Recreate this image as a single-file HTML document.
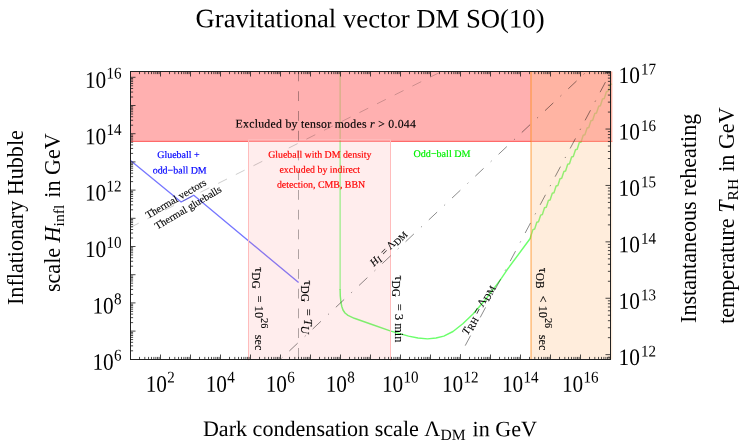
<!DOCTYPE html>
<html><head><meta charset="utf-8"><title>Gravitational vector DM SO(10)</title>
<style>html,body{margin:0;padding:0;background:#fff;}body{width:741px;height:442px;overflow:hidden;}svg{display:block;will-change:transform;} text{font-family:"Liberation Serif",serif;} .i{font-style:italic;}</style></head><body>
<svg width="741" height="442" viewBox="0 0 741 442">
<rect x="0" y="0" width="741" height="442" fill="#ffffff"/>
<polyline points="130.5,160.5 181.1,202 193.8,195.2 298.6,282.6" fill="none" stroke="rgb(118,118,255)" stroke-width="1.35" stroke-linejoin="miter"/>
<line x1="340.1" y1="71.5" x2="340.1" y2="290" stroke="rgb(108,255,108)" stroke-width="1.0"/>
<polyline points="340.1,289 340.3,296 340.9,302 341.8,306.5 343,310 345,313 348,315.3 354.3,318.3 372,324.5 390.9,331.1 408.5,336.1 418,338.0 427.5,338.85 436,338.0 443.8,336.1 453,331.5 462.8,323.8 473,314 484.5,300.7 500,280.4 507.1,269.8 530.2,238.5 530.8,236.3 532.9,229.6 534.7,229.0 536.8,222.3 538.5,221.8 540.7,215.1 542.4,214.5 544.5,207.8 546.3,207.3 548.4,200.5 550.1,200.0 552.3,193.3 554.0,192.8 556.1,186.0 557.9,185.5 560.0,178.8 561.7,178.3 563.9,171.5 565.6,171.0 567.7,164.3 569.5,163.8 571.6,157.0 573.3,156.5 575.5,149.8 577.2,149.3 579.3,142.5 581.1,142.0 583.2,135.3 584.9,134.8 587.1,128.0 588.8,127.5 590.9,120.8 592.7,120.3 594.8,113.5 596.5,113.0 598.7,106.3 600.4,105.8 602.5,99.0 604.3,98.5 606.4,91.8 608.1,91.3 610.3,84.5 612.0,84.0" fill="none" stroke="rgb(108,255,108)" stroke-width="1.45" stroke-linejoin="round"/>
<line x1="130.5" y1="141.3" x2="248.5" y2="141.3" stroke="rgb(255,0,0)" stroke-opacity="0.6" stroke-width="1.3"/>
<line x1="248.5" y1="141.3" x2="390.5" y2="141.3" stroke="rgb(255,0,0)" stroke-opacity="0.46" stroke-width="1.3"/>
<line x1="390.5" y1="141.3" x2="612.3" y2="141.3" stroke="rgb(255,0,0)" stroke-opacity="0.6" stroke-width="1.3"/>
<rect x="248.5" y="141.3" width="142.0" height="218.2" fill="rgb(255,128,128)" fill-opacity="0.14"/>
<rect x="130.5" y="71.5" width="481.79999999999995" height="69.80000000000001" fill="rgb(255,128,128)" fill-opacity="0.62"/>
<path d="M248.5,360.2V139.6H390.5V360.2" fill="none" stroke="rgb(255,188,188)" stroke-width="1"/>
<line x1="531.09" y1="71.5" x2="531.09" y2="359.5" stroke="rgb(255,128,0)" stroke-opacity="0.6" stroke-width="1.32"/>
<rect x="531" y="71.5" width="81.29999999999995" height="288.0" fill="rgb(255,191,128)" fill-opacity="0.28"/>
<line x1="131" y1="227.05" x2="270.5" y2="157.2" stroke="#000" stroke-width="0.2" fill="none" stroke-dasharray="9.9 9.85" stroke-dashoffset="1.3"/>
<line x1="280.3" y1="152.25" x2="441.5" y2="71.5" stroke="#000" stroke-width="0.2" fill="none" stroke-dasharray="9.9 9.85" stroke-dashoffset="10.3"/>
<line x1="298.5" y1="71.5" x2="298.5" y2="359.5" stroke="#000" stroke-width="0.32" fill="none" stroke-dasharray="9.8 9.95"/>
<line x1="280.5" y1="359.3" x2="586.6702127659576" y2="71.5" stroke="#000" stroke-width="0.46" fill="none" stroke-dasharray="11.4 9.75 1.2 9.55" stroke-dashoffset="19.75"/>
<line x1="457.84" y1="359.5" x2="610.5" y2="72.64999999999998" stroke="#000" stroke-width="0.46" fill="none" stroke-dasharray="11.4 9.75 1.2 9.55" stroke-dashoffset="16.2"/>
<rect x="130.5" y="71.5" width="480.0" height="288.0" fill="none" stroke="#222" stroke-width="1"/>
<path d="M160.5,359.5v-5.0M160.5,71.5v5.0M190.5,359.5v-5.0M190.5,71.5v5.0M220.5,359.5v-5.0M220.5,71.5v5.0M250.5,359.5v-5.0M250.5,71.5v5.0M280.5,359.5v-5.0M280.5,71.5v5.0M310.5,359.5v-5.0M310.5,71.5v5.0M340.5,359.5v-5.0M340.5,71.5v5.0M370.5,359.5v-5.0M370.5,71.5v5.0M400.5,359.5v-5.0M400.5,71.5v5.0M430.5,359.5v-5.0M430.5,71.5v5.0M460.5,359.5v-5.0M460.5,71.5v5.0M490.5,359.5v-5.0M490.5,71.5v5.0M520.5,359.5v-5.0M520.5,71.5v5.0M550.5,359.5v-5.0M550.5,71.5v5.0M580.5,359.5v-5.0M580.5,71.5v5.0M139.53,359.5v-2.6M139.53,71.5v2.6M144.81,359.5v-2.6M144.81,71.5v2.6M148.56,359.5v-2.6M148.56,71.5v2.6M151.47,359.5v-2.6M151.47,71.5v2.6M153.84,359.5v-2.6M153.84,71.5v2.6M155.85,359.5v-2.6M155.85,71.5v2.6M157.59,359.5v-2.6M157.59,71.5v2.6M159.13,359.5v-2.6M159.13,71.5v2.6M169.53,359.5v-2.6M169.53,71.5v2.6M174.81,359.5v-2.6M174.81,71.5v2.6M178.56,359.5v-2.6M178.56,71.5v2.6M181.47,359.5v-2.6M181.47,71.5v2.6M183.84,359.5v-2.6M183.84,71.5v2.6M185.85,359.5v-2.6M185.85,71.5v2.6M187.59,359.5v-2.6M187.59,71.5v2.6M189.13,359.5v-2.6M189.13,71.5v2.6M199.53,359.5v-2.6M199.53,71.5v2.6M204.81,359.5v-2.6M204.81,71.5v2.6M208.56,359.5v-2.6M208.56,71.5v2.6M211.47,359.5v-2.6M211.47,71.5v2.6M213.84,359.5v-2.6M213.84,71.5v2.6M215.85,359.5v-2.6M215.85,71.5v2.6M217.59,359.5v-2.6M217.59,71.5v2.6M219.13,359.5v-2.6M219.13,71.5v2.6M229.53,359.5v-2.6M229.53,71.5v2.6M234.81,359.5v-2.6M234.81,71.5v2.6M238.56,359.5v-2.6M238.56,71.5v2.6M241.47,359.5v-2.6M241.47,71.5v2.6M243.84,359.5v-2.6M243.84,71.5v2.6M245.85,359.5v-2.6M245.85,71.5v2.6M247.59,359.5v-2.6M247.59,71.5v2.6M249.13,359.5v-2.6M249.13,71.5v2.6M259.53,359.5v-2.6M259.53,71.5v2.6M264.81,359.5v-2.6M264.81,71.5v2.6M268.56,359.5v-2.6M268.56,71.5v2.6M271.47,359.5v-2.6M271.47,71.5v2.6M273.84,359.5v-2.6M273.84,71.5v2.6M275.85,359.5v-2.6M275.85,71.5v2.6M277.59,359.5v-2.6M277.59,71.5v2.6M279.13,359.5v-2.6M279.13,71.5v2.6M289.53,359.5v-2.6M289.53,71.5v2.6M294.81,359.5v-2.6M294.81,71.5v2.6M298.56,359.5v-2.6M298.56,71.5v2.6M301.47,359.5v-2.6M301.47,71.5v2.6M303.84,359.5v-2.6M303.84,71.5v2.6M305.85,359.5v-2.6M305.85,71.5v2.6M307.59,359.5v-2.6M307.59,71.5v2.6M309.13,359.5v-2.6M309.13,71.5v2.6M319.53,359.5v-2.6M319.53,71.5v2.6M324.81,359.5v-2.6M324.81,71.5v2.6M328.56,359.5v-2.6M328.56,71.5v2.6M331.47,359.5v-2.6M331.47,71.5v2.6M333.84,359.5v-2.6M333.84,71.5v2.6M335.85,359.5v-2.6M335.85,71.5v2.6M337.59,359.5v-2.6M337.59,71.5v2.6M339.13,359.5v-2.6M339.13,71.5v2.6M349.53,359.5v-2.6M349.53,71.5v2.6M354.81,359.5v-2.6M354.81,71.5v2.6M358.56,359.5v-2.6M358.56,71.5v2.6M361.47,359.5v-2.6M361.47,71.5v2.6M363.84,359.5v-2.6M363.84,71.5v2.6M365.85,359.5v-2.6M365.85,71.5v2.6M367.59,359.5v-2.6M367.59,71.5v2.6M369.13,359.5v-2.6M369.13,71.5v2.6M379.53,359.5v-2.6M379.53,71.5v2.6M384.81,359.5v-2.6M384.81,71.5v2.6M388.56,359.5v-2.6M388.56,71.5v2.6M391.47,359.5v-2.6M391.47,71.5v2.6M393.84,359.5v-2.6M393.84,71.5v2.6M395.85,359.5v-2.6M395.85,71.5v2.6M397.59,359.5v-2.6M397.59,71.5v2.6M399.13,359.5v-2.6M399.13,71.5v2.6M409.53,359.5v-2.6M409.53,71.5v2.6M414.81,359.5v-2.6M414.81,71.5v2.6M418.56,359.5v-2.6M418.56,71.5v2.6M421.47,359.5v-2.6M421.47,71.5v2.6M423.84,359.5v-2.6M423.84,71.5v2.6M425.85,359.5v-2.6M425.85,71.5v2.6M427.59,359.5v-2.6M427.59,71.5v2.6M429.13,359.5v-2.6M429.13,71.5v2.6M439.53,359.5v-2.6M439.53,71.5v2.6M444.81,359.5v-2.6M444.81,71.5v2.6M448.56,359.5v-2.6M448.56,71.5v2.6M451.47,359.5v-2.6M451.47,71.5v2.6M453.84,359.5v-2.6M453.84,71.5v2.6M455.85,359.5v-2.6M455.85,71.5v2.6M457.59,359.5v-2.6M457.59,71.5v2.6M459.13,359.5v-2.6M459.13,71.5v2.6M469.53,359.5v-2.6M469.53,71.5v2.6M474.81,359.5v-2.6M474.81,71.5v2.6M478.56,359.5v-2.6M478.56,71.5v2.6M481.47,359.5v-2.6M481.47,71.5v2.6M483.84,359.5v-2.6M483.84,71.5v2.6M485.85,359.5v-2.6M485.85,71.5v2.6M487.59,359.5v-2.6M487.59,71.5v2.6M489.13,359.5v-2.6M489.13,71.5v2.6M499.53,359.5v-2.6M499.53,71.5v2.6M504.81,359.5v-2.6M504.81,71.5v2.6M508.56,359.5v-2.6M508.56,71.5v2.6M511.47,359.5v-2.6M511.47,71.5v2.6M513.84,359.5v-2.6M513.84,71.5v2.6M515.85,359.5v-2.6M515.85,71.5v2.6M517.59,359.5v-2.6M517.59,71.5v2.6M519.13,359.5v-2.6M519.13,71.5v2.6M529.53,359.5v-2.6M529.53,71.5v2.6M534.81,359.5v-2.6M534.81,71.5v2.6M538.56,359.5v-2.6M538.56,71.5v2.6M541.47,359.5v-2.6M541.47,71.5v2.6M543.84,359.5v-2.6M543.84,71.5v2.6M545.85,359.5v-2.6M545.85,71.5v2.6M547.59,359.5v-2.6M547.59,71.5v2.6M549.13,359.5v-2.6M549.13,71.5v2.6M559.53,359.5v-2.6M559.53,71.5v2.6M564.81,359.5v-2.6M564.81,71.5v2.6M568.56,359.5v-2.6M568.56,71.5v2.6M571.47,359.5v-2.6M571.47,71.5v2.6M573.84,359.5v-2.6M573.84,71.5v2.6M575.85,359.5v-2.6M575.85,71.5v2.6M577.59,359.5v-2.6M577.59,71.5v2.6M579.13,359.5v-2.6M579.13,71.5v2.6M589.53,359.5v-2.6M589.53,71.5v2.6M594.81,359.5v-2.6M594.81,71.5v2.6M598.56,359.5v-2.6M598.56,71.5v2.6M601.47,359.5v-2.6M601.47,71.5v2.6M603.84,359.5v-2.6M603.84,71.5v2.6M605.85,359.5v-2.6M605.85,71.5v2.6M607.59,359.5v-2.6M607.59,71.5v2.6M609.13,359.5v-2.6M609.13,71.5v2.6M130.5,331.1h5.0M130.5,302.9h5.0M130.5,274.7h5.0M130.5,246.5h5.0M130.5,218.3h5.0M130.5,190.1h5.0M130.5,161.9h5.0M130.5,133.7h5.0M130.5,105.5h5.0M130.5,77.3h5.0M130.5,350.81h2.6M130.5,345.85h2.6M130.5,342.32h2.6M130.5,339.59h2.6M130.5,337.36h2.6M130.5,335.47h2.6M130.5,333.83h2.6M130.5,332.39h2.6M130.5,322.61h2.6M130.5,317.65h2.6M130.5,314.12h2.6M130.5,311.39h2.6M130.5,309.16h2.6M130.5,307.27h2.6M130.5,305.63h2.6M130.5,304.19h2.6M130.5,294.41h2.6M130.5,289.45h2.6M130.5,285.92h2.6M130.5,283.19h2.6M130.5,280.96h2.6M130.5,279.07h2.6M130.5,277.43h2.6M130.5,275.99h2.6M130.5,266.21h2.6M130.5,261.25h2.6M130.5,257.72h2.6M130.5,254.99h2.6M130.5,252.76h2.6M130.5,250.87h2.6M130.5,249.23h2.6M130.5,247.79h2.6M130.5,238.01h2.6M130.5,233.05h2.6M130.5,229.52h2.6M130.5,226.79h2.6M130.5,224.56h2.6M130.5,222.67h2.6M130.5,221.03h2.6M130.5,219.59h2.6M130.5,209.81h2.6M130.5,204.85h2.6M130.5,201.32h2.6M130.5,198.59h2.6M130.5,196.36h2.6M130.5,194.47h2.6M130.5,192.83h2.6M130.5,191.39h2.6M130.5,181.61h2.6M130.5,176.65h2.6M130.5,173.12h2.6M130.5,170.39h2.6M130.5,168.16h2.6M130.5,166.27h2.6M130.5,164.63h2.6M130.5,163.19h2.6M130.5,153.41h2.6M130.5,148.45h2.6M130.5,144.92h2.6M130.5,142.19h2.6M130.5,139.96h2.6M130.5,138.07h2.6M130.5,136.43h2.6M130.5,134.99h2.6M130.5,125.21h2.6M130.5,120.25h2.6M130.5,116.72h2.6M130.5,113.99h2.6M130.5,111.76h2.6M130.5,109.87h2.6M130.5,108.23h2.6M130.5,106.79h2.6M130.5,97.01h2.6M130.5,92.05h2.6M130.5,88.52h2.6M130.5,85.79h2.6M130.5,83.56h2.6M130.5,81.67h2.6M130.5,80.03h2.6M130.5,78.59h2.6M610.5,354.65h-5.0M610.5,298.25h-5.0M610.5,241.85h-5.0M610.5,185.45h-5.0M610.5,129.05h-5.0M610.5,72.65h-5.0M610.5,357.23h-2.6M610.5,337.67h-2.6M610.5,327.74h-2.6M610.5,320.69h-2.6M610.5,315.23h-2.6M610.5,310.76h-2.6M610.5,306.99h-2.6M610.5,303.72h-2.6M610.5,300.83h-2.6M610.5,281.27h-2.6M610.5,271.34h-2.6M610.5,264.29h-2.6M610.5,258.83h-2.6M610.5,254.36h-2.6M610.5,250.59h-2.6M610.5,247.32h-2.6M610.5,244.43h-2.6M610.5,224.87h-2.6M610.5,214.94h-2.6M610.5,207.89h-2.6M610.5,202.43h-2.6M610.5,197.96h-2.6M610.5,194.19h-2.6M610.5,190.92h-2.6M610.5,188.03h-2.6M610.5,168.47h-2.6M610.5,158.54h-2.6M610.5,151.49h-2.6M610.5,146.03h-2.6M610.5,141.56h-2.6M610.5,137.79h-2.6M610.5,134.52h-2.6M610.5,131.63h-2.6M610.5,112.07h-2.6M610.5,102.14h-2.6M610.5,95.09h-2.6M610.5,89.63h-2.6M610.5,85.16h-2.6M610.5,81.39h-2.6M610.5,78.12h-2.6M610.5,75.23h-2.6" fill="none" stroke="#1a1a1a" stroke-width="0.8"/>
<text transform="translate(145.70,391.80) rotate(0.05) scale(0.903,1)" font-size="23.6" fill="#000">10</text>
<text transform="translate(167.20,382.60) rotate(0.05) scale(0.92,1)" font-size="16.4" fill="#000">2</text>
<text transform="translate(205.70,391.80) rotate(0.05) scale(0.903,1)" font-size="23.6" fill="#000">10</text>
<text transform="translate(227.20,382.60) rotate(0.05) scale(0.92,1)" font-size="16.4" fill="#000">4</text>
<text transform="translate(265.70,391.80) rotate(0.05) scale(0.903,1)" font-size="23.6" fill="#000">10</text>
<text transform="translate(287.20,382.60) rotate(0.05) scale(0.92,1)" font-size="16.4" fill="#000">6</text>
<text transform="translate(325.70,391.80) rotate(0.05) scale(0.903,1)" font-size="23.6" fill="#000">10</text>
<text transform="translate(347.20,382.60) rotate(0.05) scale(0.92,1)" font-size="16.4" fill="#000">8</text>
<text transform="translate(381.90,391.80) rotate(0.05) scale(0.903,1)" font-size="23.6" fill="#000">10</text>
<text transform="translate(403.40,382.60) rotate(0.05) scale(0.92,1)" font-size="16.4" fill="#000">10</text>
<text transform="translate(441.90,391.80) rotate(0.05) scale(0.903,1)" font-size="23.6" fill="#000">10</text>
<text transform="translate(463.40,382.60) rotate(0.05) scale(0.92,1)" font-size="16.4" fill="#000">12</text>
<text transform="translate(501.90,391.80) rotate(0.05) scale(0.903,1)" font-size="23.6" fill="#000">10</text>
<text transform="translate(523.40,382.60) rotate(0.05) scale(0.92,1)" font-size="16.4" fill="#000">14</text>
<text transform="translate(561.90,391.80) rotate(0.05) scale(0.903,1)" font-size="23.6" fill="#000">10</text>
<text transform="translate(583.40,382.60) rotate(0.05) scale(0.92,1)" font-size="16.4" fill="#000">16</text>
<text transform="translate(92.40,369.80) rotate(0.05) scale(0.903,1)" font-size="23.6" fill="#000">10</text>
<text transform="translate(113.90,360.60) rotate(0.05) scale(0.92,1)" font-size="16.4" fill="#000">6</text>
<text transform="translate(92.40,313.40) rotate(0.05) scale(0.903,1)" font-size="23.6" fill="#000">10</text>
<text transform="translate(113.90,304.20) rotate(0.05) scale(0.92,1)" font-size="16.4" fill="#000">8</text>
<text transform="translate(84.90,257.00) rotate(0.05) scale(0.903,1)" font-size="23.6" fill="#000">10</text>
<text transform="translate(106.40,247.80) rotate(0.05) scale(0.92,1)" font-size="16.4" fill="#000">10</text>
<text transform="translate(84.90,200.60) rotate(0.05) scale(0.903,1)" font-size="23.6" fill="#000">10</text>
<text transform="translate(106.40,191.40) rotate(0.05) scale(0.92,1)" font-size="16.4" fill="#000">12</text>
<text transform="translate(84.90,144.20) rotate(0.05) scale(0.903,1)" font-size="23.6" fill="#000">10</text>
<text transform="translate(106.40,135.00) rotate(0.05) scale(0.92,1)" font-size="16.4" fill="#000">14</text>
<text transform="translate(84.90,87.80) rotate(0.05) scale(0.903,1)" font-size="23.6" fill="#000">10</text>
<text transform="translate(106.40,78.60) rotate(0.05) scale(0.92,1)" font-size="16.4" fill="#000">16</text>
<text transform="translate(618.60,365.05) rotate(0.05) scale(0.903,1)" font-size="23.6" fill="#000">10</text>
<text transform="translate(641.00,356.55) rotate(0.05) scale(0.92,1)" font-size="16.4" fill="#000">12</text>
<text transform="translate(618.60,308.65) rotate(0.05) scale(0.903,1)" font-size="23.6" fill="#000">10</text>
<text transform="translate(641.00,300.15) rotate(0.05) scale(0.92,1)" font-size="16.4" fill="#000">13</text>
<text transform="translate(618.60,252.25) rotate(0.05) scale(0.903,1)" font-size="23.6" fill="#000">10</text>
<text transform="translate(641.00,243.75) rotate(0.05) scale(0.92,1)" font-size="16.4" fill="#000">14</text>
<text transform="translate(618.60,195.85) rotate(0.05) scale(0.903,1)" font-size="23.6" fill="#000">10</text>
<text transform="translate(641.00,187.35) rotate(0.05) scale(0.92,1)" font-size="16.4" fill="#000">15</text>
<text transform="translate(618.60,139.45) rotate(0.05) scale(0.903,1)" font-size="23.6" fill="#000">10</text>
<text transform="translate(641.00,130.95) rotate(0.05) scale(0.92,1)" font-size="16.4" fill="#000">16</text>
<text transform="translate(618.60,83.05) rotate(0.05) scale(0.903,1)" font-size="23.6" fill="#000">10</text>
<text transform="translate(641.00,74.55) rotate(0.05) scale(0.92,1)" font-size="16.4" fill="#000">17</text>
<text transform="translate(370,27.4) rotate(0.05)" font-size="26.7" text-anchor="middle" fill="#000">Gravitational vector DM SO(10)</text>
<text transform="translate(202.9,435.9) rotate(0.05)" font-size="22.1" fill="#000">Dark condensation scale Λ<tspan font-size="15.6" dy="3.9">DM</tspan><tspan dy="-3.9" dx="1.5"> in GeV</tspan></text>
<text transform="translate(22.6,217.6) rotate(-90)" font-size="22.1" text-anchor="middle" fill="#000">Inflationary Hubble</text>
<text transform="translate(60,133.3) rotate(-90)" font-size="22.1" text-anchor="end" fill="#000">scale <tspan class="i">H</tspan><tspan font-size="15.6" dy="3.9">infl</tspan><tspan dy="-3.9" dx="1.5"> in GeV</tspan></text>
<text transform="translate(695.6,113.7) rotate(-90)" font-size="22.1" text-anchor="end" fill="#000">Instantaneous reheating</text>
<text transform="translate(733.6,107.4) rotate(-90)" font-size="22.1" text-anchor="end" fill="#000">temperature <tspan class="i">T</tspan><tspan font-size="15.6" dy="3.9">RH</tspan><tspan dy="-3.9" dx="1.5"> in GeV</tspan></text>
<text transform="translate(235.5,127.6) rotate(0.05)" font-size="11.8" text-anchor="start" fill="#000" stroke="#000" stroke-width="0.15" letter-spacing="0.27">Excluded by tensor modes <tspan class="i">r</tspan> &gt; 0.044</text>
<text transform="translate(178.4,157.9) rotate(0.05)" font-size="9.97" text-anchor="middle" fill="#0000ff" stroke="#0000ff" stroke-width="0.18" >Glueball +</text>
<text transform="translate(179.7,173.4) rotate(0.05)" font-size="9.97" text-anchor="middle" fill="#0000ff" stroke="#0000ff" stroke-width="0.18" >odd−ball DM</text>
<text transform="translate(319.8,157.7) rotate(0.05)" font-size="9.87" text-anchor="middle" fill="#ff0000" stroke="#ff0000" stroke-width="0.18" >Glueball with DM density</text>
<text transform="translate(319.7,172.7) rotate(0.05)" font-size="9.87" text-anchor="middle" fill="#ff0000" stroke="#ff0000" stroke-width="0.18" >excluded by indirect</text>
<text transform="translate(321.0,187.7) rotate(0.05)" font-size="9.87" text-anchor="middle" fill="#ff0000" stroke="#ff0000" stroke-width="0.18" >detection, CMB, BBN</text>
<text transform="translate(442,157) rotate(0.05)" font-size="10.1" text-anchor="middle" fill="#00f000" stroke="#00f000" stroke-width="0.18" >Odd−ball DM</text>
<text transform="translate(177.6,201.6) rotate(-30.4)" font-size="10.45" text-anchor="middle" fill="#000" stroke="#000" stroke-width="0.12">Thermal vectors</text>
<text transform="translate(189.8,210.4) rotate(-30.6)" font-size="10.45" text-anchor="middle" fill="#000" stroke="#000" stroke-width="0.12">Thermal glueballs</text>
<text transform="translate(254.6,267.3) rotate(90) scale(1,1.07)" font-size="12.3" fill="#000" stroke="#000" stroke-width="0.1" xml:space="preserve">τ<tspan font-size="11.4" dy="2.7">DG</tspan><tspan dy="-2.7" dx="4.0"> = 10</tspan><tspan font-size="10.2" dy="-5.9">26</tspan><tspan dy="5.9" dx="3.5"> sec</tspan></text>
<text transform="translate(304.3,280.5) rotate(90) scale(1,1.07)" font-size="12.3" fill="#000" stroke="#000" stroke-width="0.1" xml:space="preserve">τ<tspan font-size="11.4" dy="2.7">DG</tspan><tspan dy="-2.7" dx="4.0"> = </tspan><tspan class="i">T</tspan><tspan class="i" font-size="11.4" dy="2.7">U</tspan></text>
<text transform="translate(394.6,275.5) rotate(90) scale(1,1.07)" font-size="12.3" fill="#000" stroke="#000" stroke-width="0.1" xml:space="preserve">τ<tspan font-size="11.4" dy="2.7">DG</tspan><tspan dy="-2.7" dx="4.0"> = 3 min</tspan></text>
<text transform="translate(539.0,267.8) rotate(90) scale(1,1.07)" font-size="12.3" fill="#000" stroke="#000" stroke-width="0.1" xml:space="preserve">τ<tspan font-size="11.4" dy="2.7">OB</tspan><tspan dy="-2.7" dx="4.0"> &lt; 10</tspan><tspan font-size="10.2" dy="-5.9">26</tspan><tspan dy="5.9" dx="3.5"> sec</tspan></text>
<text transform="translate(390.3,250.3) rotate(-45)" font-size="10.6" text-anchor="middle" fill="#000" stroke="#000" stroke-width="0.12" xml:space="preserve"><tspan class="i">H</tspan><tspan class="i" font-size="9.6" dy="2.0">I</tspan><tspan dy="-2.0" dx="1.5"> = Λ</tspan><tspan font-size="9.4" dy="2.0">DM</tspan></text>
<text transform="translate(481.0,311.2) rotate(-61.5)" font-size="10.8" text-anchor="middle" fill="#000" stroke="#000" stroke-width="0.12" xml:space="preserve"><tspan class="i">T</tspan><tspan font-size="9.6" dy="2.3">RH</tspan><tspan dy="-2.3" dx="1.0"> = Λ</tspan><tspan font-size="9.6" dy="2.3">DM</tspan></text>
</svg></body></html>
